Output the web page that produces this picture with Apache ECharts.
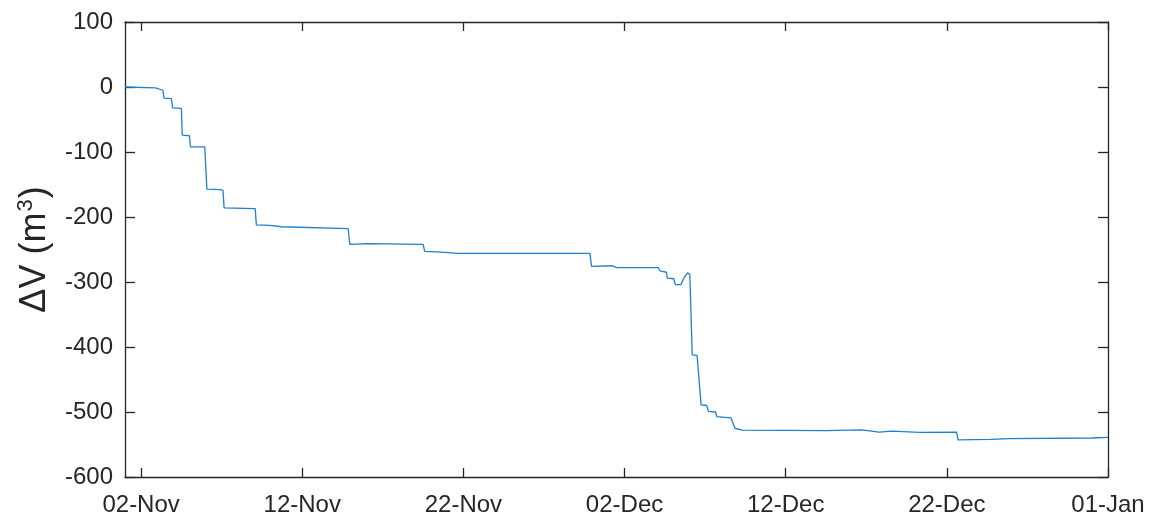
<!DOCTYPE html>
<html>
<head>
<meta charset="utf-8">
<script src="https://cdn.jsdelivr.net/npm/echarts@6/dist/echarts.min.js"></script>
<style>html,body{margin:0;padding:0;background:#fff}#c{width:1154px;height:520px}</style>
</head>
<body>
<div id="c"></div>
<script>
// Days since 01-Nov 00:00
const days = [0, 1.9, 2.35, 2.42, 2.88, 2.95, 3.5, 3.55, 4.0, 4.06, 4.95, 4.98, 5.03, 5.08, 5.9, 6.08, 6.15, 8.08, 8.15, 9.0, 9.05, 9.7, 9.75, 13.85, 13.95, 15.0, 18.5, 18.6, 19.6, 20.7, 28.85, 28.95, 30.25, 30.5, 33.1, 33.2, 33.6, 33.65, 34.05, 34.15, 34.5, 34.72, 34.91, 35.0, 35.05, 35.2, 35.5, 35.75, 36.1, 36.2, 36.65, 36.72, 37.6, 37.85, 38.3, 43.5, 45.7, 46.8, 47.6, 49.3, 51.6, 51.7, 53.7, 54.9, 60.0, 61.0];
const dV = [0, -1.5, -5, -17, -18, -32, -33, -74, -75, -92, -92, -89, -90, -157, -158, -159, -186, -187, -212, -213, -215, -215, -217, -218, -242, -241, -242, -253, -254, -256, -256, -276, -275, -278, -278, -283, -285, -294, -295, -304, -304, -292, -286, -284, -288, -412, -413, -489, -490, -499, -500, -507, -509, -525, -528, -528.5, -527.5, -531, -529.5, -531.5, -531, -543, -542, -541, -540, -539];
const xTickDays = [1, 11, 21, 31, 41, 51, 61];
const xTickLabels = ['02-Nov', '12-Nov', '22-Nov', '02-Dec', '12-Dec', '22-Dec', '01-Jan'];
const yTicks = [100, 0, -100, -200, -300, -400, -500, -600];

const axisColor = '#262626';
const font = 'Liberation Sans, Arial, sans-serif';
const chart = echarts.init(document.getElementById('c'), null, {renderer: 'canvas'});
const lineStyle = {color: axisColor, width: 1.3};
chart.setOption({
  animation: false,
  backgroundColor: '#fff',
  grid: {left: 125, right: 46, top: 22, bottom: 43, containLabel: false},
  xAxis: [{
    type: 'value', min: 0, max: 61, position: 'bottom',
    axisLine: {show: true, onZero: false, lineStyle: lineStyle},
    axisTick: {show: true, inside: true, length: 9, lineStyle: lineStyle, customValues: xTickDays},
    axisLabel: {customValues: xTickDays, color: axisColor, fontSize: 24, fontFamily: font, margin: 16,
      formatter: v => xTickLabels[xTickDays.indexOf(Math.round(v))] || ''},
    splitLine: {show: false}
  }, {
    type: 'value', min: 0, max: 61, position: 'top',
    axisLine: {show: true, onZero: false, lineStyle: lineStyle},
    axisTick: {show: true, inside: true, length: 9, lineStyle: lineStyle, customValues: xTickDays},
    axisLabel: {show: false},
    splitLine: {show: false}
  }],
  yAxis: [{
    type: 'value', min: -600, max: 100, interval: 100, position: 'left',
    name: '{m|ΔV (m}{sup|3}{m|)}', nameLocation: 'middle', nameGap: 70, nameRotate: 90,
    nameTextStyle: {color: axisColor, fontSize: 36, fontFamily: font,
      rich: {
        m: {fontSize: 36, fontFamily: font, color: axisColor, lineHeight: 40},
        sup: {fontSize: 22, fontFamily: font, color: axisColor, lineHeight: 40, verticalAlign: 'top', padding: [0, 1, 14, 1]}
      }},
    axisLine: {show: true, onZero: false, lineStyle: lineStyle},
    axisTick: {show: true, inside: true, length: 10, lineStyle: lineStyle},
    axisLabel: {color: axisColor, fontSize: 24, fontFamily: font, margin: 12, padding: [5, 0, 0, 0],
      formatter: v => yTicks.indexOf(v) >= 0 ? String(v) : ''},
    splitLine: {show: false}
  }, {
    type: 'value', min: -600, max: 100, interval: 100, position: 'right',
    axisLine: {show: true, onZero: false, lineStyle: lineStyle},
    axisTick: {show: true, inside: true, length: 10, lineStyle: lineStyle},
    axisLabel: {show: false},
    splitLine: {show: false}
  }],
  series: [{
    type: 'line',
    xAxisIndex: 0, yAxisIndex: 0,
    data: days.map((d, i) => [d, dV[i]]),
    showSymbol: false, symbol: 'none',
    lineStyle: {color: '#1f7fd0', width: 1.3},
    clip: true
  }]
});
</script>
</body>
</html>
